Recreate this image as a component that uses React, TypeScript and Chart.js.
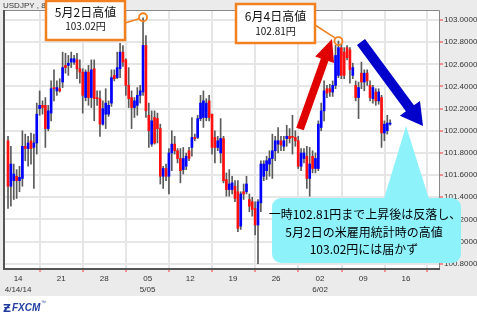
import React, { useEffect, useRef } from 'react';
import { Chart, registerables } from 'chart.js';
Chart.register(...registerables);

const W = 477;
const H = 317;

const opens = [101.91,101.50,101.55,101.59,101.55,101.57,101.86,101.84,101.91,101.85,101.89,102.20,102.23,102.23,102.02,102.16,102.39,102.36,102.38,102.44,102.59,102.59,102.62,102.62,102.64,102.56,102.53,102.30,102.53,102.30,102.56,102.30,102.29,102.06,102.15,102.15,102.25,102.50,102.48,102.56,102.71,102.64,102.41,102.30,102.21,102.23,102.32,102.35,102.77,102.14,101.88,102.12,102.11,102.02,101.59,101.66,101.59,101.80,101.88,101.82,101.75,101.65,101.68,101.82,101.85,101.94,101.94,102.11,102.12,102.12,102.27,102.15,101.94,101.85,101.80,101.93,101.56,101.47,101.47,101.50,101.45,101.14,101.45,101.45,101.38,101.36,101.30,101.15,101.35,101.59,101.64,101.70,101.75,101.82,101.88,101.91,101.86,101.93,101.95,101.95,101.94,101.91,101.68,101.75,101.77,101.57,101.77,101.66,101.66,102.03,102.18,102.38,102.38,102.35,102.41,102.50,102.75,102.71,102.75,102.73,102.50,102.41,102.30,102.52,102.44,102.52,102.41,102.29,102.35,102.27,102.30,101.98,102.00,102.06];
const highs = [101.95,101.86,101.70,101.65,101.68,102.00,101.97,101.95,101.98,101.97,102.25,102.36,102.27,102.30,102.23,102.45,102.55,102.45,102.47,102.71,102.70,102.68,102.71,102.68,102.70,102.64,102.56,102.55,102.59,102.64,102.64,102.36,102.36,102.27,102.38,102.27,102.55,102.55,102.71,102.79,102.77,102.65,102.57,102.36,102.30,102.39,102.41,103.02,102.86,102.25,102.18,102.18,102.16,102.06,101.68,101.70,101.84,102.00,101.95,101.84,101.84,101.85,101.80,101.85,102.12,101.97,102.14,102.32,102.36,102.29,102.32,102.15,102.00,101.95,102.11,101.95,101.62,101.65,101.59,101.55,101.55,101.45,101.52,101.59,101.43,101.40,101.36,101.38,101.73,101.73,101.77,101.82,101.97,101.95,102.03,101.95,101.95,102.05,102.02,102.14,102.00,101.95,101.84,101.84,101.86,101.85,101.82,101.80,102.09,102.25,102.45,102.41,102.42,102.45,102.77,102.81,102.78,102.75,102.77,102.75,102.61,102.45,102.44,102.62,102.55,102.55,102.45,102.41,102.38,102.38,102.32,102.09,102.14,102.10];
const lows = [101.30,101.32,101.38,101.39,101.45,101.50,101.73,101.68,101.70,101.48,101.79,102.14,102.15,101.85,102.00,102.09,102.27,102.32,102.35,102.39,102.52,102.50,102.57,102.60,102.47,102.43,102.16,102.27,102.23,102.21,102.09,102.23,101.95,102.05,102.02,102.13,102.22,102.45,102.47,102.48,102.58,102.32,102.21,102.02,102.12,102.14,102.25,102.32,102.12,101.85,101.86,101.88,101.89,101.52,101.48,101.55,101.43,101.64,101.79,101.71,101.53,101.61,101.65,101.73,101.77,101.91,101.93,102.09,102.03,102.09,102.09,101.79,101.71,101.82,101.71,101.53,101.41,101.41,101.43,101.36,101.09,101.11,101.38,101.43,101.27,101.23,101.06,100.80,101.27,101.55,101.56,101.59,101.57,101.73,101.80,101.82,101.82,101.86,101.89,101.79,101.86,101.66,101.64,101.71,101.48,101.41,101.62,101.62,101.64,102.00,102.09,102.30,102.31,102.31,102.38,102.48,102.47,102.47,102.64,102.43,102.47,102.27,102.11,102.38,102.36,102.41,102.27,102.25,102.23,102.24,101.85,101.91,101.97,102.05];
const closes = [101.50,101.70,101.61,101.55,101.58,101.86,101.84,101.89,101.84,101.89,102.15,102.23,102.21,102.02,102.18,102.38,102.38,102.39,102.36,102.57,102.57,102.61,102.65,102.65,102.56,102.53,102.32,102.53,102.30,102.55,102.29,102.29,102.06,102.20,102.25,102.23,102.48,102.47,102.57,102.71,102.62,102.41,102.29,102.21,102.27,102.32,102.36,102.77,102.18,102.00,102.09,101.89,102.02,101.59,101.66,101.59,101.80,101.88,101.82,101.75,101.64,101.75,101.77,101.75,101.94,101.93,102.11,102.25,102.27,102.25,102.12,101.85,101.85,101.91,101.93,101.55,101.47,101.52,101.53,101.39,101.12,101.43,101.43,101.52,101.32,101.29,101.15,101.36,101.70,101.70,101.73,101.75,101.82,101.91,101.91,101.87,101.91,101.95,101.93,101.94,101.91,101.68,101.80,101.80,101.57,101.70,101.66,101.75,102.06,102.18,102.36,102.34,102.35,102.41,102.68,102.75,102.50,102.50,102.66,102.55,102.57,102.30,102.39,102.44,102.52,102.45,102.30,102.39,102.27,102.35,101.98,102.06,102.07,102.07];

const weekTickPos = [3.5, 18.5, 33.5, 48.6, 63.4, 78.3, 93.3, 108.6, 123.6, 138.5];
const weekTickDay = ['14', '21', '28', '05', '12', '19', '26', '02', '09', '16'];
const weekTickMonth = ['4/14/14', '', '', '5/05', '', '', '', '6/02', '', ''];
const yMin = 100.753;
const yMax = 103.09;
const yStep = 0.2;
const symbolLabel = 'USDJPY , 8 Hours';
const note1 = ['5月2日高値', '103.02円'];
const note2 = ['6月4日高値', '102.81円'];
const noteHighIdx = [47, 115];
const calloutLines = ['一時102.81円まで上昇後は反落し、', '5月2日の米雇用統計時の高値', '103.02円には届かず'];

const UP = '#0000ff';
const DOWN = '#ff1010';
const ORANGE = '#f2801f';
const CYAN = '#8ef2fb';
const JP = '"Noto Sans CJK JP", sans-serif';

function arrow(ctx: CanvasRenderingContext2D, x1: number, y1: number, x2: number, y2: number, shaft: number, headW: number, headL: number, color: string) {
  const dx = x2 - x1, dy = y2 - y1, len = Math.hypot(dx, dy);
  const ux = dx / len, uy = dy / len, px = -uy, py = ux;
  const bx = x2 - ux * headL, by = y2 - uy * headL;
  ctx.fillStyle = color;
  ctx.beginPath();
  ctx.moveTo(x1 + px * shaft / 2, y1 + py * shaft / 2);
  ctx.lineTo(bx + px * shaft / 2, by + py * shaft / 2);
  ctx.lineTo(bx + px * headW / 2, by + py * headW / 2);
  ctx.lineTo(x2, y2);
  ctx.lineTo(bx - px * headW / 2, by - py * headW / 2);
  ctx.lineTo(bx - px * shaft / 2, by - py * shaft / 2);
  ctx.lineTo(x1 - px * shaft / 2, y1 - py * shaft / 2);
  ctx.closePath();
  ctx.fill();
}

function noteBox(ctx: CanvasRenderingContext2D, l: number, t: number, r: number, b: number, lines: string[], y1: number, y2: number) {
  ctx.fillStyle = '#fff';
  ctx.fillRect(l, t, r - l, b - t);
  ctx.strokeStyle = ORANGE;
  ctx.lineWidth = 2.5;
  ctx.strokeRect(l, t, r - l, b - t);
  ctx.fillStyle = '#111';
  ctx.textAlign = 'center';
  ctx.textBaseline = 'middle';
  ctx.font = '12px ' + JP;
  ctx.fillText(lines[0], (l + r) / 2, y1);
  ctx.font = '10px ' + JP;
  ctx.fillText(lines[1], (l + r) / 2, y2);
}

const decor = {
  id: 'decor',
  beforeDraw(chart: any) {
    const { ctx, chartArea: a } = chart;
    ctx.save();
    ctx.fillStyle = '#ffffff';
    ctx.fillRect(0, 0, W, H);
    ctx.fillStyle = '#ebebeb';
    ctx.fillRect(0, 0, W, 296);
    ctx.fillStyle = '#ffffff';
    ctx.fillRect(a.left, a.top, a.right - a.left, a.bottom - a.top);
    ctx.restore();
  },
  afterDraw(chart: any) {
    const { ctx, chartArea: a, scales } = chart;
    const xs = scales.x, ys = scales.y;
    ctx.save();
    // frame
    ctx.strokeStyle = '#888';
    ctx.lineWidth = 1;
    ctx.beginPath();
    ctx.moveTo(a.left, a.top + 0.5);
    ctx.lineTo(a.right + 0.5, a.top + 0.5);
    ctx.lineTo(a.right + 0.5, a.bottom);
    ctx.stroke();
    ctx.strokeStyle = '#555';
    ctx.lineWidth = 2;
    ctx.beginPath();
    ctx.moveTo(a.left, a.top);
    ctx.lineTo(a.left, a.bottom);
    ctx.lineTo(a.right + 1, a.bottom);
    ctx.stroke();

    // symbol label
    ctx.fillStyle = '#333';
    ctx.font = '8px "Liberation Sans", Arial, sans-serif';
    ctx.textAlign = 'left';
    ctx.textBaseline = 'alphabetic';
    ctx.fillText(symbolLabel, 3, 8);

    // FXCM logo
    ctx.fillStyle = '#1f3c9e';
    ctx.font = 'bold 11px "DejaVu Sans", sans-serif';
    ctx.fillText('Ƶ', 3, 312);
    ctx.font = 'bold italic 10px "Liberation Sans", Arial, sans-serif';
    ctx.fillText('FXCM', 12, 311);
    ctx.font = '5px "Liberation Sans", Arial, sans-serif';
    ctx.fillText('™', 41, 304);

    // arrows
    arrow(ctx, 300, 129, 332, 39, 8, 20, 22, '#e00000');
    arrow(ctx, 361, 42, 423, 126, 10, 25, 22, '#0000cc');

    // high markers + note boxes
    const c1x = xs.getPixelForValue(noteHighIdx[0]);
    const c1y = ys.getPixelForValue(highs[noteHighIdx[0]]);
    const c2x = xs.getPixelForValue(noteHighIdx[1]);
    const c2y = ys.getPixelForValue(highs[noteHighIdx[1]]);
    ctx.strokeStyle = ORANGE;
    ctx.lineWidth = 1.5;
    ctx.beginPath();
    ctx.moveTo(125, 23);
    ctx.lineTo(c1x - 4, c1y + 1);
    ctx.moveTo(315, 25);
    ctx.lineTo(c2x - 3, c2y - 3);
    ctx.stroke();
    ctx.lineWidth = 1.8;
    ctx.beginPath();
    ctx.arc(c1x, c1y - 0.5, 4, 0, Math.PI * 2);
    ctx.stroke();
    ctx.beginPath();
    ctx.arc(c2x, c2y, 4, 0, Math.PI * 2);
    ctx.stroke();

    noteBox(ctx, 46, 1, 125, 40, note1, 12.5, 26.5);
    noteBox(ctx, 236, 4, 315, 43, note2, 16, 31);

    // callout
    ctx.fillStyle = CYAN;
    ctx.beginPath();
    ctx.moveTo(383, 202);
    ctx.lineTo(406, 126);
    ctx.lineTo(430, 202);
    ctx.closePath();
    ctx.fill();
    ctx.beginPath();
    (ctx as any).roundRect(272, 198, 189, 65, 9);
    ctx.fill();
    ctx.fillStyle = '#000';
    ctx.textAlign = 'center';
    ctx.textBaseline = 'middle';
    ctx.font = '12px ' + JP;
    ctx.fillText(calloutLines[0], 365, 214);
    ctx.fillText(calloutLines[1], 364, 232);
    ctx.fillText(calloutLines[2], 364, 249);
    ctx.restore();
  },
};

export default function App() {
  const ref = useRef<HTMLCanvasElement>(null);
  useEffect(() => {
    const idx = opens.map((_, i) => i);
    const chart = new Chart(ref.current!, {
      type: 'bar',
      data: {
        datasets: [
          {
            label: 'body',
            data: idx.map((i) => ({ x: i, y: [opens[i], closes[i]] })) as any,
            backgroundColor: idx.map((i) => (closes[i] >= opens[i] ? UP : DOWN)),
            barThickness: 2,
            minBarLength: 1,
            grouped: false,
            order: 0,
          } as any,
          {
            label: 'wick',
            data: idx.map((i) => ({ x: i, y: [lows[i], highs[i]] })) as any,
            backgroundColor: '#5a5a5a',
            barThickness: 1,
            grouped: false,
            order: 1,
          } as any,
        ],
      },
      options: {
        animation: false,
        responsive: false,
        devicePixelRatio: 1,
        layout: { padding: { left: 4, top: 10, right: 0, bottom: 0 } },
        plugins: { legend: { display: false }, tooltip: { enabled: false } },
        scales: {
          x: {
            type: 'linear',
            min: -1.4,
            max: 150,
            offset: false,
            afterBuildTicks: (s: any) => {
              s.ticks = weekTickPos.map((v) => ({ value: v }));
            },
            afterFit: (s: any) => {
              s.height = 48;
            },
            border: { display: false },
            grid: { color: '#e6e6e6', lineWidth: 2, tickColor: '#ff3030', tickLength: 3, tickWidth: 1 },
            ticks: {
              autoSkip: false,
              maxRotation: 0,
              padding: 1,
              color: '#333',
              font: { family: '"Liberation Sans", Arial, sans-serif', size: 8, lineHeight: 1.4 },
              callback: (_v: any, i: number) => (weekTickMonth[i] ? [weekTickDay[i], weekTickMonth[i]] : weekTickDay[i]),
            },
          },
          y: {
            type: 'linear',
            position: 'right',
            min: yMin,
            max: yMax,
            afterFit: (s: any) => {
              s.width = 38;
            },
            border: { display: false },
            grid: { color: '#e6e6e6', lineWidth: 2, tickColor: '#ff3030', tickLength: 4, tickWidth: 1 },
            ticks: {
              stepSize: yStep,
              includeBounds: false,
              padding: 1,
              color: '#333',
              font: { family: '"Liberation Sans", Arial, sans-serif', size: 8 },
              callback: (v: any) => Number(v).toFixed(4),
            },
          },
        },
      },
      plugins: [decor],
    });
    return () => chart.destroy();
  }, []);
  return (
    <div style={{ position: 'absolute', left: 0, top: 0, width: W, height: H }}>
      <canvas ref={ref} width={W} height={H} style={{ width: W, height: H, display: 'block' }} />
    </div>
  );
}
